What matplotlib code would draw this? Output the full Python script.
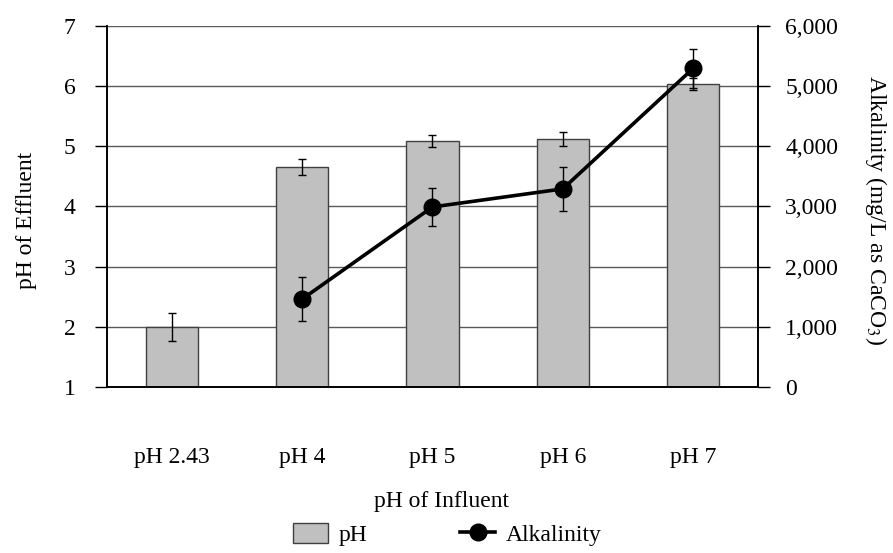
import numpy as np
import matplotlib.pyplot as plt
from matplotlib.ticker import FuncFormatter

# data
categories = ["pH 2.43", "pH 4", "pH 5", "pH 6", "pH 7"]
ph_effluent = [2.0, 4.65, 5.09, 5.12, 6.03]
ph_err = [0.235, 0.13, 0.10, 0.12, 0.10]
alkalinity = [np.nan, 1460, 2990, 3290, 5290]
alk_err = [np.nan, 370, 310, 360, 330]


def main():
    plt.rcParams['font.family'] = ['Liberation Serif', 'DejaVu Serif']
    plt.rcParams['font.size'] = 17
    plt.rcParams['mathtext.fontset'] = 'stix'

    fig = plt.figure(figsize=(8.93, 5.53), dpi=100)
    ax = fig.add_axes([0.1195, 0.3002, 0.7296, 0.6533])
    ax2 = ax.twinx()

    x = np.arange(len(categories))
    ax.bar(x, ph_effluent, width=0.4, color="#c0c0c0", edgecolor="#404040",
           linewidth=1.0, label="pH", zorder=2)
    ax.errorbar(x, ph_effluent, yerr=ph_err, fmt="none", ecolor="black",
                elinewidth=1.0, capsize=3, capthick=1.0, zorder=3)

    ax2.errorbar(x, alkalinity, yerr=alk_err, fmt="none", ecolor="black",
                 elinewidth=1.0, capsize=3, capthick=1.0, zorder=3)
    ax2.plot(x, alkalinity, color="black", linewidth=2.6, marker="o",
             markersize=12, label="Alkalinity", zorder=4)

    ax.set_xlim(-0.5, len(categories) - 0.5)
    ax.set_ylim(1, 7)
    ax.set_yticks(range(1, 8))
    ax2.set_ylim(0, 6000)
    ax2.set_yticks(range(0, 6001, 1000))
    ax2.yaxis.set_major_formatter(FuncFormatter(lambda v, p: f"{int(v):,}"))

    ax.yaxis.grid(True, color="#5a5a5a", linewidth=1.0, zorder=0)
    ax.set_axisbelow(True)

    ax.set_xticks(x)
    ax.set_xticklabels(categories)
    ax.tick_params(axis="x", length=0, pad=43)
    ax.tick_params(axis="y", direction="out", length=8.4, width=1.0, pad=14)
    ax2.tick_params(axis="y", direction="out", length=8.4, width=1.0, pad=11)

    for a in (ax, ax2):
        a.spines["top"].set_visible(False)
        for s in ("left", "right", "bottom"):
            a.spines[s].set_linewidth(1.2)
            a.spines[s].set_color("black")

    ax.set_ylabel("pH of Effluent")
    ax.yaxis.set_label_coords(-0.107, 0.46)
    ax2.set_ylabel("Alkalinity (mg/L as CaCO$_3$)", rotation=270)
    ax2.yaxis.set_label_coords(1.20, 0.49)
    fig.text(0.4946, 1 - 502 / 553, "pH of Influent", ha="center", va="center")

    h1, l1 = ax.get_legend_handles_labels()
    h2, l2 = ax2.get_legend_handles_labels()
    fig.legend(h1 + h2, l1 + l2, loc="center", bbox_to_anchor=(0.501, 0.034),
               ncol=2, frameon=False, handlelength=1.5, handleheight=0.95,
               columnspacing=3.9, handletextpad=0.45, borderpad=0)

    fig.savefig("out.png", dpi=100)


if __name__ == "__main__":
    main()
